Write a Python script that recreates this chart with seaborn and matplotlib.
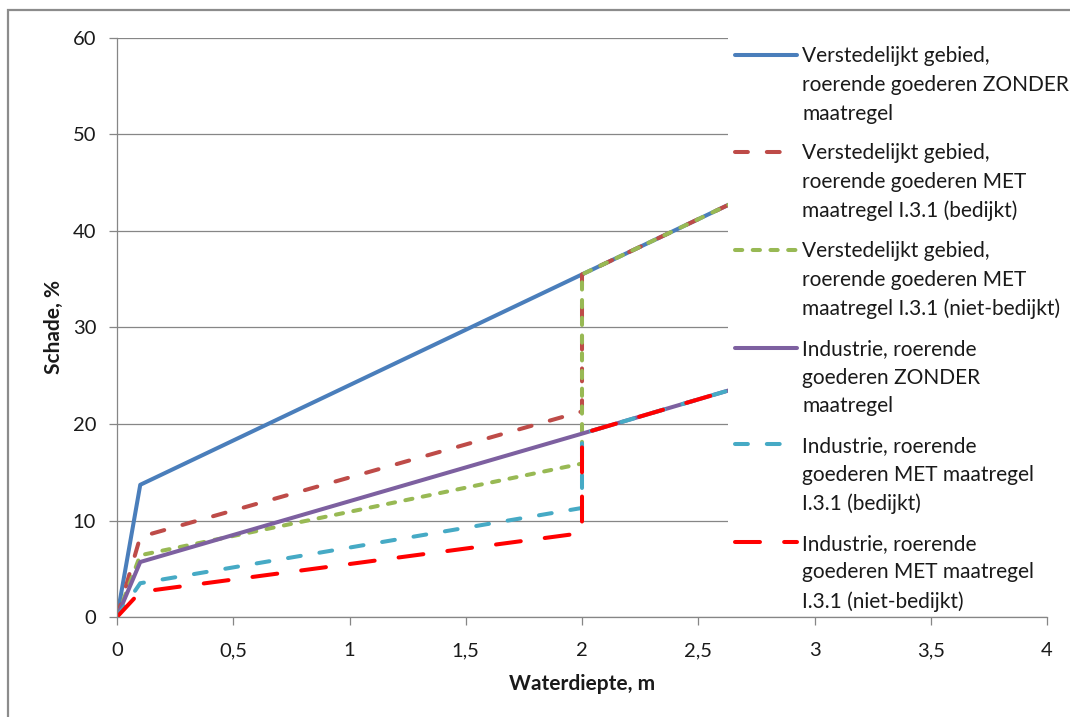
import matplotlib
matplotlib.use("Agg")
import matplotlib.pyplot as plt
import seaborn as sns
from matplotlib.patches import Rectangle
from matplotlib.ticker import FixedLocator, FuncFormatter

# ---------------- data ----------------
depth_plain = [0.0, 0.1, 2.0, 4.0]          # m, series without jump
depth_jump = [0.0, 0.1, 2.0, 2.0, 4.0]      # m, series with jump at 2 m

verst_zonder = [0.0, 13.7, 35.5, 58.4]
verst_met_bedijkt = [0.0, 8.3, 21.3, 35.5, 58.4]
verst_met_nietbedijkt = [0.0, 6.4, 15.9, 35.5, 58.4]
ind_zonder = [0.0, 5.7, 19.0, 33.2]
ind_met_bedijkt = [0.0, 3.5, 11.3, 19.0, 33.2]
ind_met_nietbedijkt = [0.0, 2.6, 8.7, 19.0, 33.2]

labels = [
    "Verstedelijkt gebied,\nroerende goederen ZONDER\nmaatregel",
    "Verstedelijkt gebied,\nroerende goederen MET\nmaatregel I.3.1 (bedijkt)",
    "Verstedelijkt gebied,\nroerende goederen MET\nmaatregel I.3.1 (niet-bedijkt)",
    "Industrie, roerende\ngoederen ZONDER\nmaatregel",
    "Industrie, roerende\ngoederen MET maatregel\nI.3.1 (bedijkt)",
    "Industrie, roerende\ngoederen MET maatregel\nI.3.1 (niet-bedijkt)",
]
x_ticks = [0, 0.5, 1, 1.5, 2, 2.5, 3, 3.5, 4]
y_ticks = [0, 10, 20, 30, 40, 50, 60]

# ---------------- style ----------------
sns.set_style("white")
plt.rcParams["font.family"] = ["Lato", "DejaVu Sans"]

W, H, DPI = 1070, 717, 100
fig = plt.figure(figsize=(W / DPI, H / DPI), dpi=DPI)
ax = fig.add_axes([117 / W, 1 - 617 / H, (1047 - 117) / W, (617 - 38) / H])

GRID = "#868686"
TXT = "#1a1a1a"
LW = 2.9

series = [
    (depth_plain, verst_zonder, "#4A7EBB", "-"),
    (depth_jump, verst_met_bedijkt, "#BE4B48", (0, (3.2, 4.7))),
    (depth_jump, verst_met_nietbedijkt, "#98B954", (0, (1.8, 2.6))),
    (depth_plain, ind_zonder, "#7D60A0", "-"),
    (depth_jump, ind_met_bedijkt, "#46AAC5", (0, (3.2, 4.7))),
    (depth_jump, ind_met_nietbedijkt, "#FF0000", (0, (6.2, 6.0))),
]
for (xs, ys, col, ls), lab in zip(series, labels):
    sns.lineplot(x=xs, y=ys, ax=ax, color=col, linewidth=LW, linestyle=ls,
                 estimator=None, sort=False, label=lab,
                 dash_capstyle="round", solid_capstyle="round", zorder=2)

ax.set_xlim(0, 4)
ax.set_ylim(0, 60)
ax.xaxis.set_major_locator(FixedLocator(x_ticks))
ax.yaxis.set_major_locator(FixedLocator(y_ticks))
ax.xaxis.set_major_formatter(FuncFormatter(lambda v, p: ("%g" % v).replace(".", ",")))
ax.yaxis.set_major_formatter(FuncFormatter(lambda v, p: "%g" % v))

ax.grid(axis="y", color=GRID, linewidth=0.9)
ax.grid(axis="x", visible=False)
ax.set_axisbelow(True)
for s in ["top", "right"]:
    ax.spines[s].set_visible(False)
for s in ["left", "bottom"]:
    ax.spines[s].set_color(GRID)
    ax.spines[s].set_linewidth(0.9)
ax.tick_params(axis="both", direction="out", length=6, width=0.9, color=GRID,
               labelsize=14.5, labelcolor=TXT, left=True, bottom=True)
ax.tick_params(axis="x", pad=12)
ax.tick_params(axis="y", pad=9)

ax.set_xlabel("Waterdiepte, m", fontsize=15, fontweight="bold", color=TXT, labelpad=11)
ax.set_ylabel("Schade, %", fontsize=15, fontweight="bold", color=TXT, labelpad=6)

# white legend area (Excel legend box overlapping the plot area)
ax.add_patch(Rectangle((728 / W, 1 - 612 / H), 1.0, (612 - 26) / H,
                       transform=fig.transFigure, clip_on=False,
                       facecolor="white", edgecolor="none", zorder=4))

# outer chart border
fig.add_artist(Rectangle((8 / W, -0.1), 1.2, 1.1 - 10 / H, transform=fig.transFigure,
                         facecolor="none", edgecolor="#8c8c8c", linewidth=1.6))

handles, labs = ax.get_legend_handles_labels()
LFS = 15
fs_px = LFS * DPI / 72
leg = ax.legend(handles, labs, loc="upper left",
                bbox_to_anchor=(735 / W, 1 - 46 / H), bbox_transform=fig.transFigure,
                frameon=False, fontsize=LFS, borderpad=0, borderaxespad=0,
                handlelength=62 / fs_px, handletextpad=5 / fs_px,
                labelspacing=0.93)
leg.set_zorder(5)
for t in leg.get_texts():
    t.set_linespacing(1.55)
    t.set_color(TXT)

# put each legend key next to the first line of its label (Excel style)
fig.canvas.draw()
renderer = fig.canvas.get_renderer()
for h, t in zip(leg.legend_handles, leg.get_texts()):
    bb = t.get_window_extent(renderer)
    desired = bb.y1 - 0.42 * fs_px
    yd = h.get_ydata()[0]
    cur = h.get_transform().transform([[0, yd]])[0][1]
    h.set_ydata([yd + (desired - cur) * 72 / DPI] * len(h.get_ydata()))

fig.savefig("out.png", dpi=DPI)
